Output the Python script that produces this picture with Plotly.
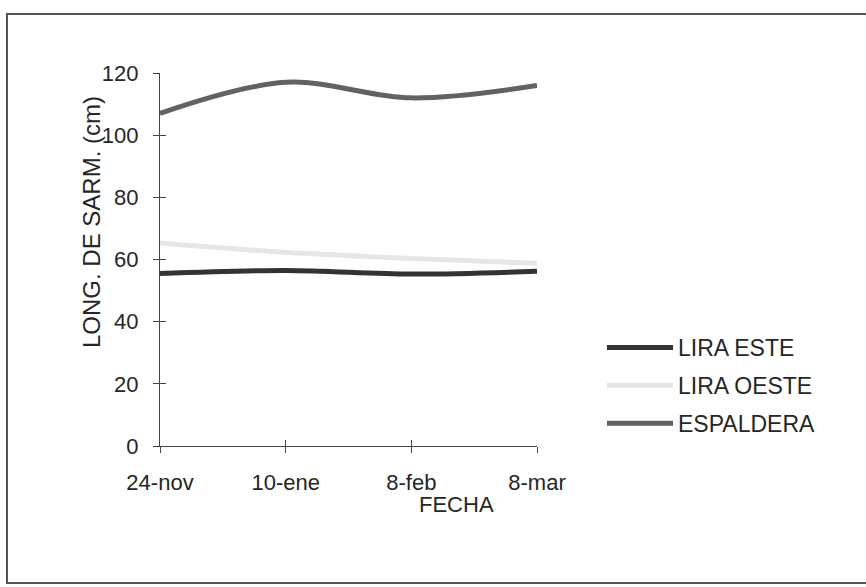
import plotly.graph_objects as go

categories = ["24-nov", "10-ene", "8-feb", "8-mar"]
lira_este = [55.5, 56.5, 55.3, 56.2]
lira_oeste = [65.3, 62.3, 60.3, 58.8]
espaldera = [107, 117, 112, 116]

series_names = ["LIRA ESTE", "LIRA OESTE", "ESPALDERA"]
series_values = [lira_este, lira_oeste, espaldera]
series_colors = ["#333333", "#e6e6e6", "#626262"]

xpos = list(range(len(categories)))

fig = go.Figure()
for i, (name, vals, col) in enumerate(zip(series_names, series_values, series_colors)):
    fig.add_trace(go.Scatter(
        x=xpos, y=vals, name=name, mode="lines",
        line=dict(color=col, width=5, shape="spline", smoothing=1.0),
        legendgroup=f"g{i}",
    ))

FAM = "Liberation Sans, Arial, sans-serif"
font = dict(family=FAM, size=22, color="#262626")
legend_font = dict(family=FAM, size=23, color="#262626")
title_font = dict(family=FAM, size=24, color="#262626")

L, R, T, B = 160, 866 - 537, 73, 587 - 446
W, H = 866, 587
pw, ph = W - L - R, H - T - B

def px2x(p):
    return (p - L) / pw

def py2y(p):
    return (H - B - p) / ph

fig.update_layout(
    width=W, height=H,
    margin=dict(l=L, r=R, t=T, b=B),
    paper_bgcolor="white", plot_bgcolor="white",
    font=font,
    showlegend=True,
    legend=dict(
        x=px2x(602), y=py2y(326), xanchor="left", yanchor="top",
        bgcolor="rgba(0,0,0,0)", font=legend_font,
        traceorder="grouped", tracegroupgap=5, itemwidth=66,
    ),
    xaxis=dict(
        range=[0, 3], tickvals=xpos, ticktext=categories,
        showline=True, linecolor="#444", linewidth=1.2,
        ticks="outside", ticklen=6, tickcolor="#444", tickwidth=1.2,
        showgrid=False, zeroline=False, tickfont=font,
        ticklabelstandoff=10,
    ),
    yaxis=dict(
        range=[0, 120], dtick=20,
        showline=True, linecolor="#444", linewidth=1.2,
        ticks="outside", ticklen=6, tickcolor="#444", tickwidth=1.2,
        showgrid=False, zeroline=False, tickfont=font,
        ticklabelstandoff=10,
    ),
    shapes=[
        dict(type="rect", xref="paper", yref="paper",
             x0=px2x(7), x1=px2x(868), y0=py2y(583), y1=py2y(14),
             line=dict(color="#555", width=2), fillcolor="rgba(0,0,0,0)", layer="below"),
    ],
    annotations=[
        dict(text="FECHA", xref="paper", yref="paper", x=px2x(456), y=py2y(504),
             showarrow=False, font=font, xanchor="center", yanchor="middle"),
        dict(text="LONG. DE SARM. (cm)", xref="paper", yref="paper", x=px2x(91), y=py2y(222),
             showarrow=False, font=title_font, textangle=-90, xanchor="center", yanchor="middle"),
    ],
)

# inner half of the crossing ticks
fig.update_layout(
    xaxis2=dict(overlaying="x", range=[0, 3], tickvals=xpos, ticktext=["" for _ in categories],
                ticks="inside", ticklen=6, tickcolor="#444", tickwidth=1.2,
                showgrid=False, zeroline=False, showline=False, side="bottom", anchor="y"),
    yaxis2=dict(overlaying="y", range=[0, 120], dtick=20, showticklabels=False,
                ticks="inside", ticklen=6, tickcolor="#444", tickwidth=1.2,
                showgrid=False, zeroline=False, showline=False, side="left", anchor="x"),
)
fig.add_trace(go.Scatter(x=[0], y=[0], xaxis="x2", yaxis="y2", mode="markers",
                         marker=dict(opacity=0), showlegend=False, hoverinfo="skip"))

fig.write_html("out.html")
